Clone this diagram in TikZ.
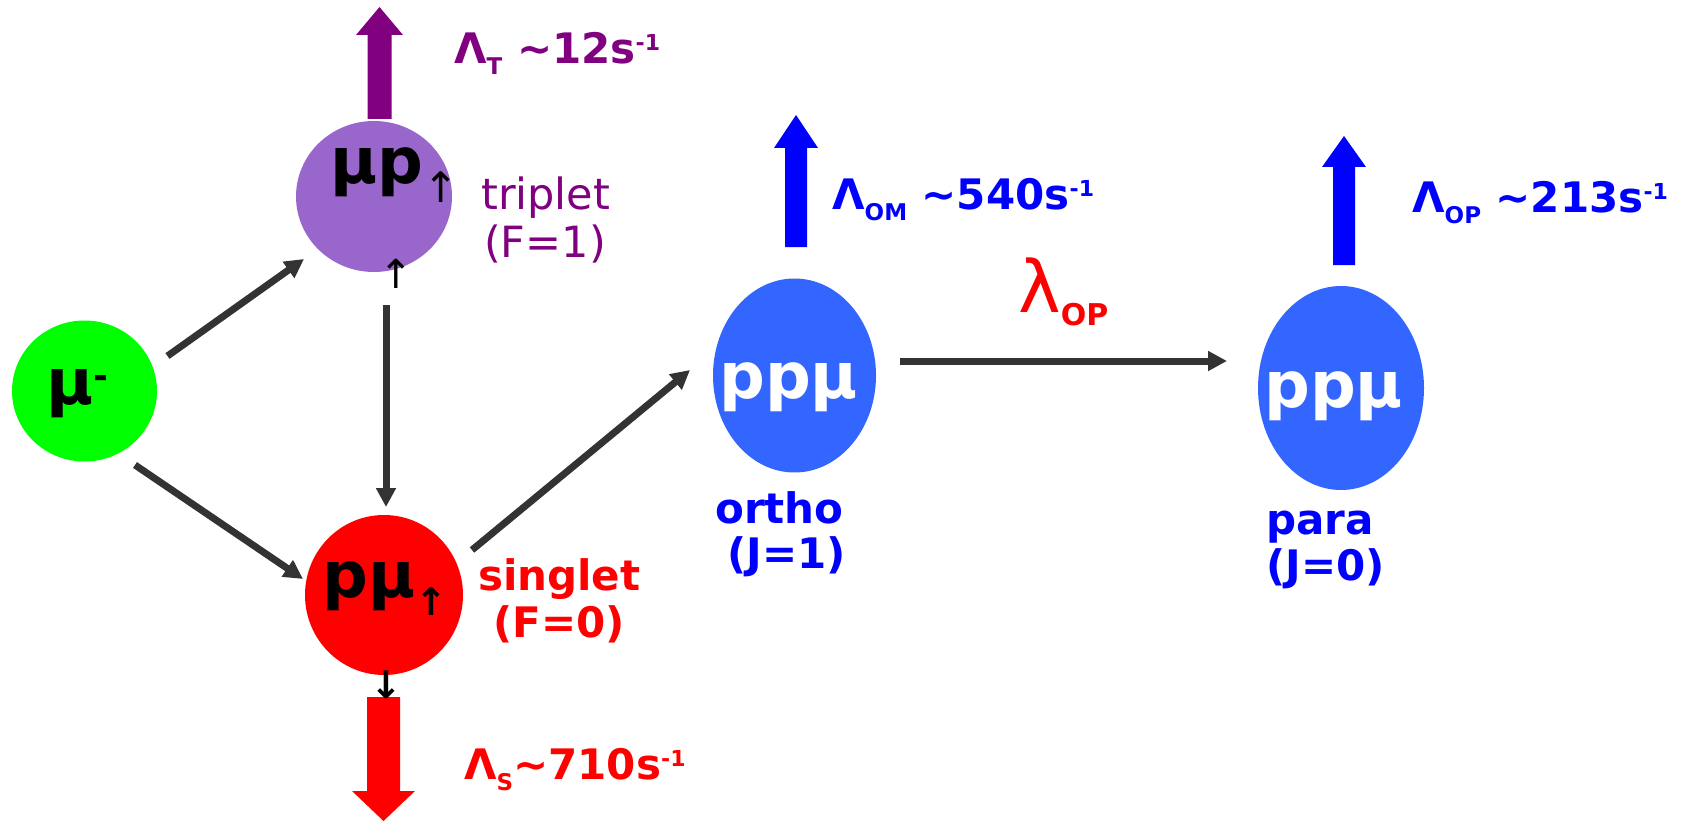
\documentclass[tikz,border=0pt]{standalone}
\usepackage{fontspec}
\setmainfont{DejaVu Sans}
\usepackage{tikz}
\usetikzlibrary{shapes.geometric, arrows.meta}
\definecolor{tpurple}{HTML}{800080}
\definecolor{mupurple}{HTML}{9966CC}
\definecolor{mugreen}{HTML}{00FF00}
\definecolor{ppblue}{HTML}{3366FF}
\definecolor{rblue}{HTML}{0000FF}
\definecolor{darkgrey}{HTML}{333333}
\newcommand{\ratelbl}[2]{Λ\raisebox{-11pt}{\fontsize{23}{23}\selectfont #1}#2\raisebox{13pt}{\fontsize{22}{22}\selectfont -1}}
\newcommand{\blockarrow}[7]{\fill[#7] (#1-#5,#2) -- (#1-#5,#3) -- (#1-#6,#3) -- (#1,#4) -- (#1+#6,#3) -- (#1+#5,#3) -- (#1+#5,#2) -- cycle;}
\tikzset{
    particle/.style={ellipse, inner sep=0pt},
    conn/.style={-{Triangle[length=19pt,width=19pt]}, line width=7pt, draw=darkgrey},
    lbl/.style={anchor=base west, inner sep=0pt},
    big/.style={font=\bfseries\fontsize{64}{64}\selectfont},
    rate/.style={lbl, font=\bfseries\fontsize{42}{42}\selectfont},
    spin/.style={anchor=center, inner sep=0pt, font=\fontsize{40}{40}\selectfont},
}
\begin{document}
\begin{tikzpicture}[x=1pt, y=-1pt]
        \useasboundingbox (0,0) rectangle (1691,821);
        % States
        \node[particle, fill=mugreen, minimum width=145pt, minimum height=141pt] (mum) at (84.5,391) {};
        \node[particle, fill=mupurple, minimum width=156pt, minimum height=151pt] (mup) at (374,196.5) {};
        \node[particle, fill=red, minimum width=158pt, minimum height=160pt] (pmu) at (384,595) {};
        \node[particle, fill=ppblue, minimum width=163pt, minimum height=194pt] (ortho) at (794.5,375.5) {};
        \node[particle, fill=ppblue, minimum width=166pt, minimum height=204pt] (para) at (1341,388) {};

        % Transitions
        \draw[conn] ([shift={(83,-35)}]mum.center) -- ([shift={(-70,62.5)}]mup.center);
        \draw[conn] ([shift={(50.5,74)}]mum.center) -- ([shift={(-81,-16)}]pmu.center);
        \draw[conn] ([shift={(12,108.5)}]mup.center) -- ([shift={(2,-88)}]pmu.center);
        \draw[conn] ([shift={(88,-45)}]pmu.center) -- ([shift={(-104.5,-5.5)}]ortho.center);
        \draw[conn] ([shift={(105.5,-14.5)}]ortho.center) -- ([shift={(-114,-27)}]para.center);

        % Decays
        \blockarrow{379.5}{119}{35}{7}{12}{23.5}{tpurple}
        \blockarrow{796}{247}{148}{115}{11}{22}{rblue}
        \blockarrow{1344}{265}{167}{136}{11}{22}{rblue}
        \blockarrow{383.5}{697}{791}{821}{16.5}{31.5}{red}

        % Labels in the states
        \node[lbl, big] (mumTxt) at (46,404) {μ\raisebox{16pt}{\fontsize{36}{36}\selectfont -}};
        \node[lbl, big] (mupTxt) at (330,184) {μp\raisebox{-19pt}{\mdseries\fontsize{42}{42}\selectfont ↑}};
        \node[lbl, big] (pmuTxt) at (322,597) {pμ\raisebox{-18pt}{\fontsize{38}{38}\selectfont ↑}};
        \node[lbl, big, text=white] (orthoTxt) at (719,398) {ppμ};
        \node[lbl, big, text=white] (paraTxt) at (1264,407) {ppμ};
        \node[spin] (spinT) at (396,274) {↑};
        \node[spin, font=\bfseries\fontsize{38}{38}\selectfont] (spinS) at (386,685) {↓};

        % Names
        \node[lbl, text=tpurple, font=\fontsize{43}{43}\selectfont] (tripA) at (481,210) {triplet};
        \node[lbl, text=tpurple, font=\fontsize{43}{43}\selectfont] (tripB) at (484,257) {(F=1)};
        \node[rate, text=red] (singA) at (478,590) {singlet};
        \node[rate, text=red] (singB) at (493,637) {(F=0)};
        \node[rate, text=rblue] (orthoA) at (715,523) {ortho};
        \node[rate, text=rblue] (orthoB) at (727,568) {(J=1)};
        \node[rate, text=rblue] (paraA) at (1266,534) {para};
        \node[rate, text=rblue] (paraB) at (1266,580) {(J=0)};

        % Rates
        \node[rate, text=tpurple] (rateT) at (454,64) {\ratelbl{T}{ \textasciitilde12s}};
        \node[rate, text=rblue] (rateOM) at (832,209) {\ratelbl{OM}{ \textasciitilde540s}};
        \node[rate, text=rblue] (rateOP) at (1412,212) {\ratelbl{OP}{ \textasciitilde213s}};
        \node[rate, text=red] (rateS) at (464,779) {\ratelbl{S}{\textasciitilde710s}};
        \node[lbl, text=red, font=\fontsize{72}{72}\selectfont] (lamOP) at (1018,312) {λ\raisebox{-13pt}{\bfseries\fontsize{30}{30}\selectfont OP}};
    \end{tikzpicture}
\end{document}
